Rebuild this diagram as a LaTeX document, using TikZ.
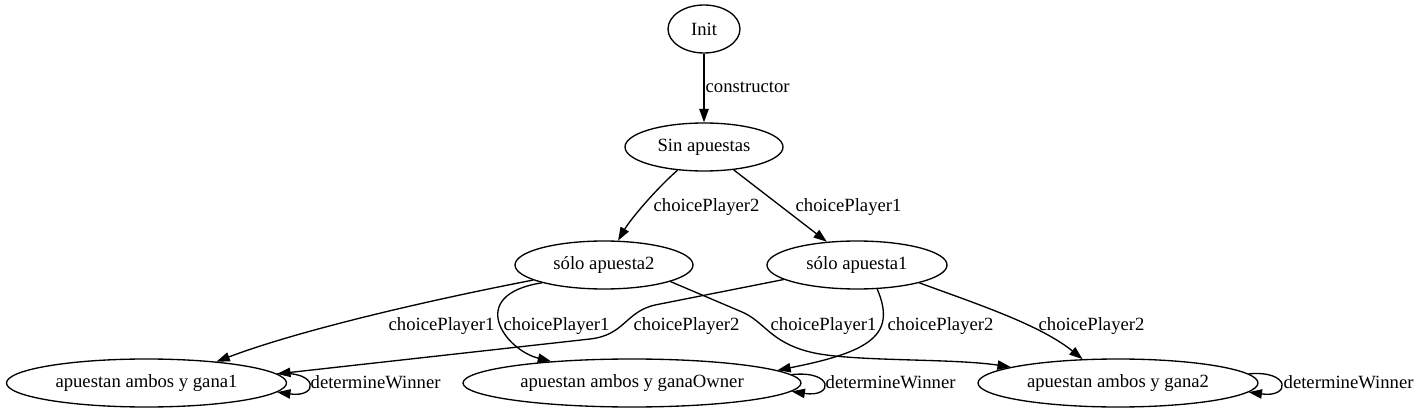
\documentclass[tikz,border=0pt]{standalone}
\usepackage{fontspec}
\setmainfont{Liberation Serif}
\usepackage{tikz}
\usetikzlibrary{arrows.meta,shapes.geometric}

\begin{document}
\begin{tikzpicture}[x=0.75pt,y=-0.75pt,>={Triangle[length=10pt,width=7pt]},line width=1pt,line join=round,
  state/.style={ellipse,draw,inner sep=0pt,minimum height=36pt,font=\fontsize{14}{16}\selectfont},
  trans/.style={->},
  lbl/.style={anchor=base west,inner sep=0pt,font=\fontsize{14}{16}\selectfont}]
  \useasboundingbox (0,0) rectangle (1419,413);
  % states
  \node[state,minimum width=54pt] (Init) at (704,29) {Init};
  \node[state,minimum width=118.5pt] (Sin) at (704,147) {Sin apuestas};
  \node[state,minimum width=133.5pt] (S2) at (604,265) {sólo apuesta2};
  \node[state,minimum width=135pt] (S1) at (857,265) {sólo apuesta1};
  \node[state,minimum width=210pt] (G1) at (146.5,383) {apuestan ambos y gana1};
  \node[state,minimum width=253.5pt] (GO) at (632,383) {apuestan ambos y ganaOwner};
  \node[state,minimum width=210pt] (G2) at (1118,383) {apuestan ambos y gana2};
  % transitions
  \draw[trans] (Init) -- (Sin);
  \draw[trans] (Sin) .. controls (655,190) and (630,220) .. (S2);
  \draw[trans] (Sin) -- (S1);
  \draw[trans] (S2.192) .. controls (430,300) and (300,330) .. (G1.17);
  \draw[trans] (S2.196) .. controls (465,295) and (505,350) .. (GO.165);
  \draw[trans] (S1) -- (655,305) .. controls (625,312) and (625,335) .. (590,339) -- (G1.4);
  \draw[trans] (S2.-14) -- (742,312) .. controls (765,322) and (770,342) .. (810,352)
    .. controls (850,362) and (950,358) .. (G2);
  \draw[trans] (S1.-50) .. controls (897,335) and (870,352) .. (GO.5);
  \draw[trans] (S1.-16) .. controls (980,305) and (1040,325) .. (G2.146);
  \draw[trans] (G1.4) .. controls (319,370) and (319,398) .. (G1.-4);
  \draw[trans] (GO.3) .. controls (834,370) and (834,398) .. (GO.-3);
  \draw[trans] (G2.4) .. controls (1291,370) and (1291,398) .. (G2.-4);
  % labels
  \node[lbl] (lCons) at (705,93) {constructor};
  \node[lbl] (lSinS2) at (653,212) {choicePlayer2};
  \node[lbl] (lSinS1) at (795,212) {choicePlayer1};
  \node[lbl] (lS2G1) at (388,330) {choicePlayer1};
  \node[lbl] (lS2GO) at (503,330) {choicePlayer1};
  \node[lbl] (lS1G1) at (633,330) {choicePlayer2};
  \node[lbl] (lS2G2) at (770,330) {choicePlayer1};
  \node[lbl] (lS1GO) at (887,330) {choicePlayer2};
  \node[lbl] (lS1G2) at (1038,330) {choicePlayer2};
  \node[lbl] (lG1) at (310,388) {determineWinner};
  \node[lbl] (lGO) at (825,388) {determineWinner};
  \node[lbl] (lG2) at (1283,388) {determineWinner};
\end{tikzpicture}
\end{document}
